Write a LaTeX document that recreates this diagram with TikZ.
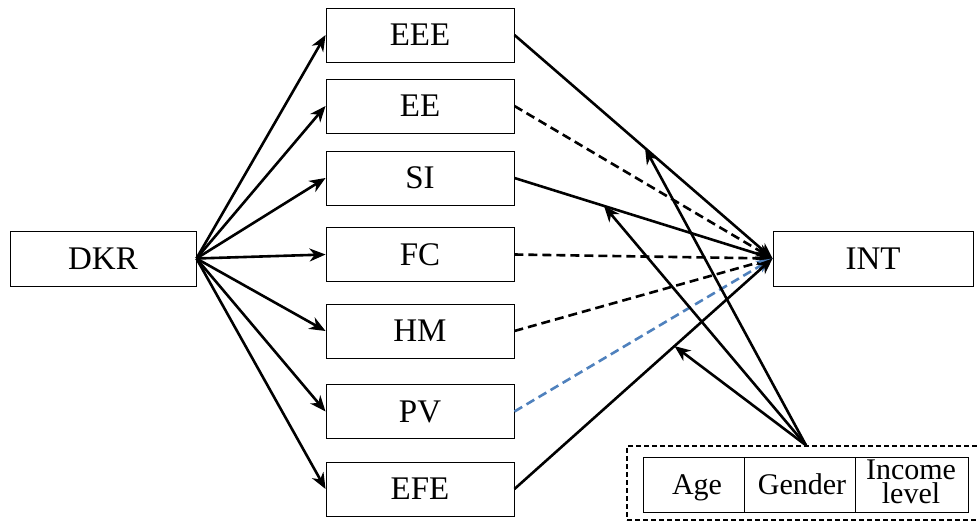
\documentclass[tikz,border=0pt]{standalone}
\usepackage{fontspec}
\setmainfont{Liberation Serif}
\usetikzlibrary{arrows.meta}
\definecolor{pvblue}{RGB}{79,129,189}
\begin{document}
\begin{tikzpicture}[x=1pt,y=-1pt,
  box/.style={draw,line width=0.9pt,minimum width=188pt,minimum height=54pt,inner sep=0pt,font=\fontsize{33}{36}\selectfont},
  conn/.style={line width=2.6pt,-{Stealth[length=16pt,width=13pt,inset=5pt]}},
  dsh/.style={conn,dash pattern=on 9pt off 5pt},
  cell/.style={inner sep=0pt,font=\fontsize{30}{24}\selectfont,align=center}]
\useasboundingbox (0,0) rectangle (977,524);
\node[box,minimum width=186pt,minimum height=55pt] (DKR) at (103,258.5) {DKR};
\node[box] (EEE) at (420,35) {EEE};
\node[box] (EE) at (420,106) {EE};
\node[box] (SI) at (420,178) {SI};
\node[box] (FC) at (420,254.5) {FC};
\node[box] (HM) at (420,331) {HM};
\node[box] (PV) at (420,411.5) {PV};
\node[box] (EFE) at (420,489) {EFE};
\node[box,minimum width=200pt,minimum height=55pt] (INT) at (873,258.5) {INT};
% moderator
\node[draw,line width=1.4pt,dash pattern=on 5pt off 3pt,minimum width=358pt,minimum height=74pt,inner sep=0pt] (mod) at (806,483) {};
\node[draw,line width=0.9pt,minimum width=101pt,minimum height=55pt] (agebox) at (693.5,484.5) {};
\node[draw,line width=0.9pt,minimum width=111pt,minimum height=55pt] (genbox) at (799.5,484.5) {};
\node[draw,line width=0.9pt,minimum width=113pt,minimum height=55pt] (incbox) at (911.5,484.5) {};
\node[cell,anchor=base] (age) at (697,494) {Age};
\node[cell,anchor=base] (gender) at (802,494) {Gender};
\node[cell] (income) at (911,482) {Income\\level};
% DKR arrows
\foreach \t in {EEE,EE,SI,FC,HM,PV,EFE}{
  \draw[conn] (DKR.east) -- (\t.west);
}
% to INT
\draw[conn] (EEE.east) -- coordinate[pos=0.506] (p1) (INT.west);
\draw[dsh] (EE.east) -- (INT.west);
\draw[conn] (SI.east) -- coordinate[pos=0.347] (p2) (INT.west);
\draw[dsh] (FC.east) -- (INT.west);
\draw[dsh] (HM.east) -- (INT.west);
\draw[dsh,pvblue] (PV.east) -- (INT.west);
\draw[conn] (EFE.east) -- coordinate[pos=0.62] (p3) (INT.west);
% moderator arrows
\draw[conn] (mod.north) -- (p1);
\draw[conn] (mod.north) -- (p2);
\draw[conn] (mod.north) -- (p3);
\end{tikzpicture}
\end{document}
